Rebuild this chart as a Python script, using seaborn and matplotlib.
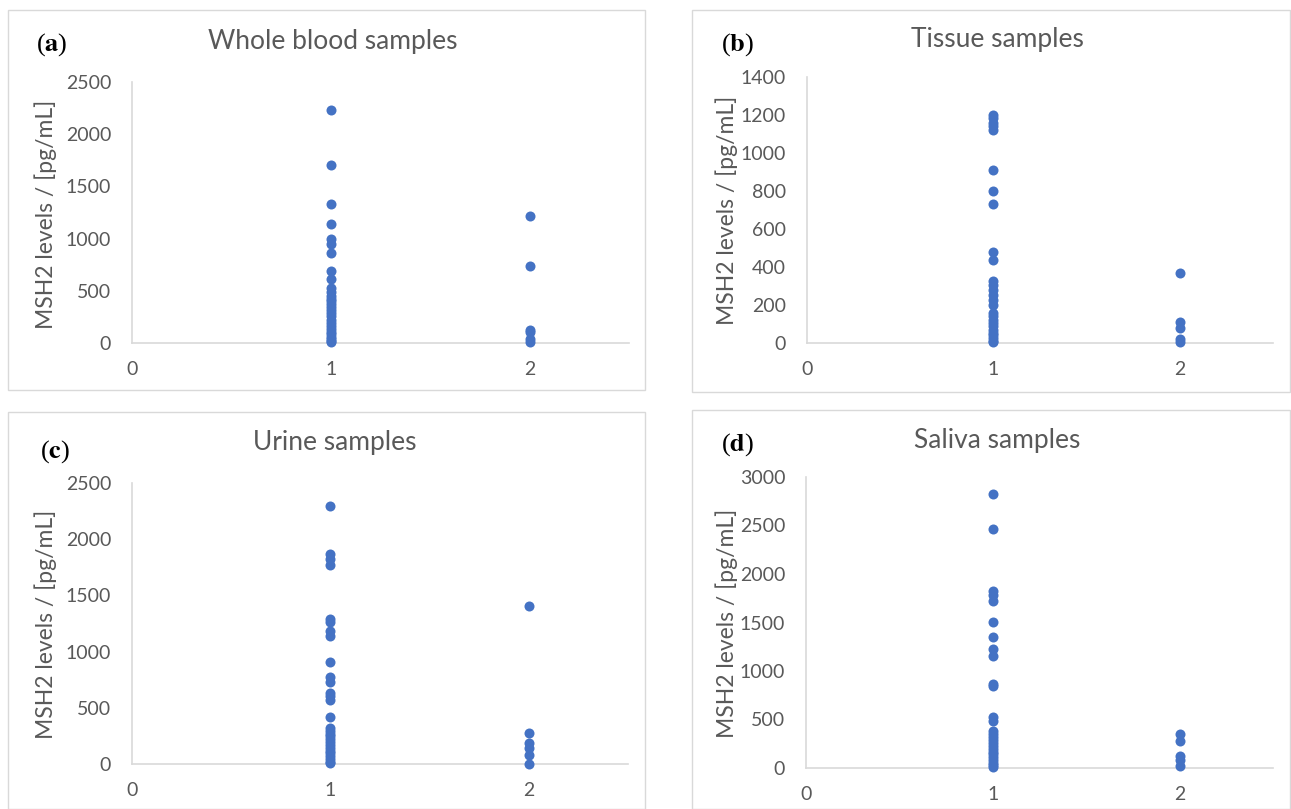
import matplotlib
matplotlib.use("Agg")
import matplotlib.pyplot as plt
import seaborn as sns
import pandas as pd
from matplotlib.patches import Rectangle

# ---- data ----
blood_g1 = [2232, 1706, 1333, 1138, 995, 947, 861, 692, 612, 523, 491,
            453, 425, 400, 375, 345, 315, 285, 255, 225, 195, 165, 135, 110,
            85, 60, 35, 15, 5]
blood_g2 = [1215, 733, 124, 102, 38, 13]

tissue_g1 = [1202, 1184, 1158, 1140, 1119, 912, 802, 730, 477, 435,
             325, 307, 281, 254, 228, 202, 158, 140, 122, 105, 88, 70,
             55, 40, 25, 12, 3]
tissue_g2 = [368, 109, 79, 21, 4]

urine_g1 = [2292, 1870, 1823, 1773, 1291, 1259, 1185, 1143, 909, 778, 733,
            635, 606, 570, 422, 318, 295, 270, 245, 220, 195, 170, 145, 120,
            95, 70, 45, 20, 5]
urine_g2 = [1407, 279, 190, 140, 80, 0]

saliva_g1 = [2828, 2464, 1828, 1787, 1725, 1502, 1347, 1227, 1158, 866, 842,
             522, 481, 378, 350, 320, 290, 260, 230, 200, 170, 140, 110, 80,
             55, 30, 10]
saliva_g2 = [350, 275, 127, 86, 24]

titles = ["Whole blood samples", "Tissue samples", "Urine samples", "Saliva samples"]
letters = ["a", "b", "c", "d"]
ymaxes = [2500, 1400, 2500, 3000]
ysteps = [500, 200, 500, 500]
xticks = [0, 1, 2]
ylabel = "MSH2 levels / [pg/mL]"

series = [(blood_g1, blood_g2), (tissue_g1, tissue_g2),
          (urine_g1, urine_g2), (saliva_g1, saliva_g2)]

# ---- style ----
sns.set_theme(style="white")
plt.rcParams['font.family'] = ['Lato', 'DejaVu Sans']
W, H = 1291, 809
fig = plt.figure(figsize=(W / 100, H / 100), dpi=100)

TXT = "#595959"
AXC = "#D9D9D9"
DOT = "#4472C4"

layouts = [
    dict(frame=(8, 10, 645, 390), ax=(132, 629, 82, 343), title=(333, 42), letter=(36, 45), ylab=(46, 214)),
    dict(frame=(692, 10, 1290, 392), ax=(807, 1273, 77, 343), title=(997, 40), letter=(721, 45), ylab=(727, 210)),
    dict(frame=(8, 412, 645, 809), ax=(132, 628, 483, 764), title=(335, 443), letter=(40, 452), ylab=(46, 624)),
    dict(frame=(692, 410, 1290, 809), ax=(806, 1273, 477, 768), title=(997, 440), letter=(721, 445), ylab=(727, 623)),
]

for i, lay in enumerate(layouts):
    fx0, fy0, fx1, fy1 = lay["frame"]
    fig.patches.append(Rectangle((fx0 / W, 1 - fy1 / H), (fx1 - fx0) / W, (fy1 - fy0) / H,
                                 transform=fig.transFigure, fill=False,
                                 edgecolor=AXC, linewidth=1.0))
    l, r, t, b = lay["ax"]
    ax = fig.add_axes([l / W, 1 - b / H, (r - l) / W, (b - t) / H])
    g1, g2 = series[i]
    df = pd.DataFrame({"x": [1] * len(g1) + [2] * len(g2), "y": g1 + g2})
    sns.scatterplot(data=df, x="x", y="y", ax=ax, color=DOT, s=52,
                    edgecolor=DOT, linewidth=0, clip_on=False, zorder=3)
    ax.set_xlim(0, 2.5)
    ax.set_ylim(0, ymaxes[i])
    ax.set_xticks(xticks)
    ax.set_yticks(range(0, ymaxes[i] + 1, ysteps[i]))
    ax.set_xlabel("")
    ax.set_ylabel("")
    for s in ["top", "right"]:
        ax.spines[s].set_visible(False)
    for s in ["left", "bottom"]:
        ax.spines[s].set_color(AXC)
        ax.spines[s].set_linewidth(1.2)
    ax.tick_params(axis="both", length=0, labelsize=14, colors=TXT)
    ax.tick_params(axis="y", pad=15)
    ax.tick_params(axis="x", pad=13)
    ax.set_facecolor("none")

    tx, ty = lay["title"]
    fig.text(tx / W, 1 - ty / H, titles[i], ha="center", va="center",
             fontsize=19, color=TXT)
    lx, ly = lay["letter"]
    fig.text(lx / W, 1 - ly / H, "(" + r"$\mathbf{" + letters[i] + "}$" + ")",
             ha="left", va="center", fontsize=19, color="black",
             family="Liberation Serif", math_fontfamily="stix")
    yx, yy = lay["ylab"]
    fig.text(yx / W, 1 - yy / H, ylabel, ha="center", va="center",
             rotation=90, fontsize=16.5, color=TXT)

fig.savefig("out.png", dpi=100)
